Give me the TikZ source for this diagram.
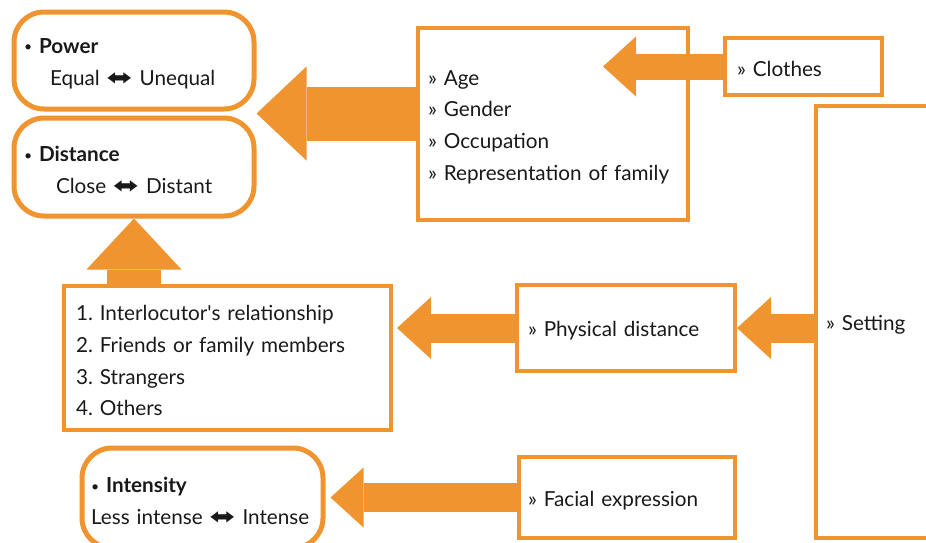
\documentclass[tikz,border=0pt]{standalone}
\usepackage{fontspec}
\setmainfont{Lato}
\newfontfamily\symfont{DejaVu Sans}
\usetikzlibrary{arrows.meta,calc}

\definecolor{boxorange}{RGB}{239,148,46}
\newcommand{\both}{\scalebox{1.5}[1.1]{\symfont\char"2B0C}}
\newcommand{\dotmark}{\raisebox{1.5pt}{\fontsize{14}{14}\selectfont •}}
\frenchspacing

\begin{document}
\begin{tikzpicture}[x=1pt, y=-1pt,
  every node/.style={font=\fontsize{20.7}{31.7}\selectfont, text=black!90, text height=21pt},
  rbox/.style={draw=boxorange, line width=5pt, rounded corners=30pt, align=left},
  sbox/.style={draw=boxorange, line width=4pt, align=left},
  bigarrow/.style n args={3}{draw=boxorange, line width=#1,
    -{Triangle[length=#3, width=#2, line width=0pt]}}]
  \clip (0,0) rectangle (926,542);
  % result boxes on the left
  \node[rbox, inner xsep=10pt, text width=220pt, minimum height=97pt] (power) at (134,60.5)
    {\dotmark\ \textbf{Power}\\\hspace*{26pt}Equal \both{} Unequal};
  \node[rbox, inner xsep=10pt, text width=220pt, minimum height=98pt] (distance) at (134,167)
    {\dotmark\ \textbf{Distance}\\\hspace*{32pt}Close \both{} Distant};
  \node[rbox, inner xsep=9pt, text width=223pt, minimum height=100pt] (intensity) at (202.5,498)
    {\dotmark\ \textbf{Intensity}\\Less intense \both{} Intense};
  % cue boxes
  \node[sbox, inner xsep=10pt, text width=250pt, minimum height=192pt] (age) at (553,124)
    {» Age\\» Gender\\» Occupation\\» Representation of family};
  \node[sbox, inner xsep=12pt, text width=133pt, minimum height=57pt] (clothes) at (803.5,66.5)
    {» Clothes};
  \node[sbox, inner xsep=10pt, text width=104pt, minimum height=432pt] (setting) at (878,322)
    {» Setting};
  \node[sbox, inner xsep=11pt, text width=196pt, minimum height=86pt] (physical) at (626,328)
    {» Physical distance};
  \node[sbox, inner xsep=12pt, text width=303pt, minimum height=144pt] (list) at (227.5,358)
    {1. Interlocutor\textquotesingle s relationship\\2. Friends or family members\\3. Strangers\\4. Others};
  \node[sbox, inner xsep=9pt, text width=198pt, minimum height=81pt] (facial) at (627,497.5)
    {» Facial expression};
  % arrows
  \coordinate (gapPD) at ($(power.south east)!.5!(distance.north east)$);
  \coordinate (ageIn) at (603,66.5);
  \draw[bigarrow={54pt}{94pt}{50pt}] (age.west |- gapPD) -- (gapPD);
  \draw[bigarrow={26pt}{60pt}{33pt}] (clothes.west) -- (ageIn);
  \draw[bigarrow={29pt}{62pt}{34pt}] (setting.west |- physical.east) -- (physical.east);
  \draw[bigarrow={29pt}{62pt}{34pt}] (physical.west) -- ([xshift=4pt]list.east |- physical.west);
  \draw[bigarrow={54pt}{95pt}{51pt}] (distance.south |- list.north) -- (distance.south);
  \draw[bigarrow={29pt}{60pt}{33pt}] (facial.west) -- ([xshift=5pt]intensity.east |- facial.west);
\end{tikzpicture}
\end{document}
